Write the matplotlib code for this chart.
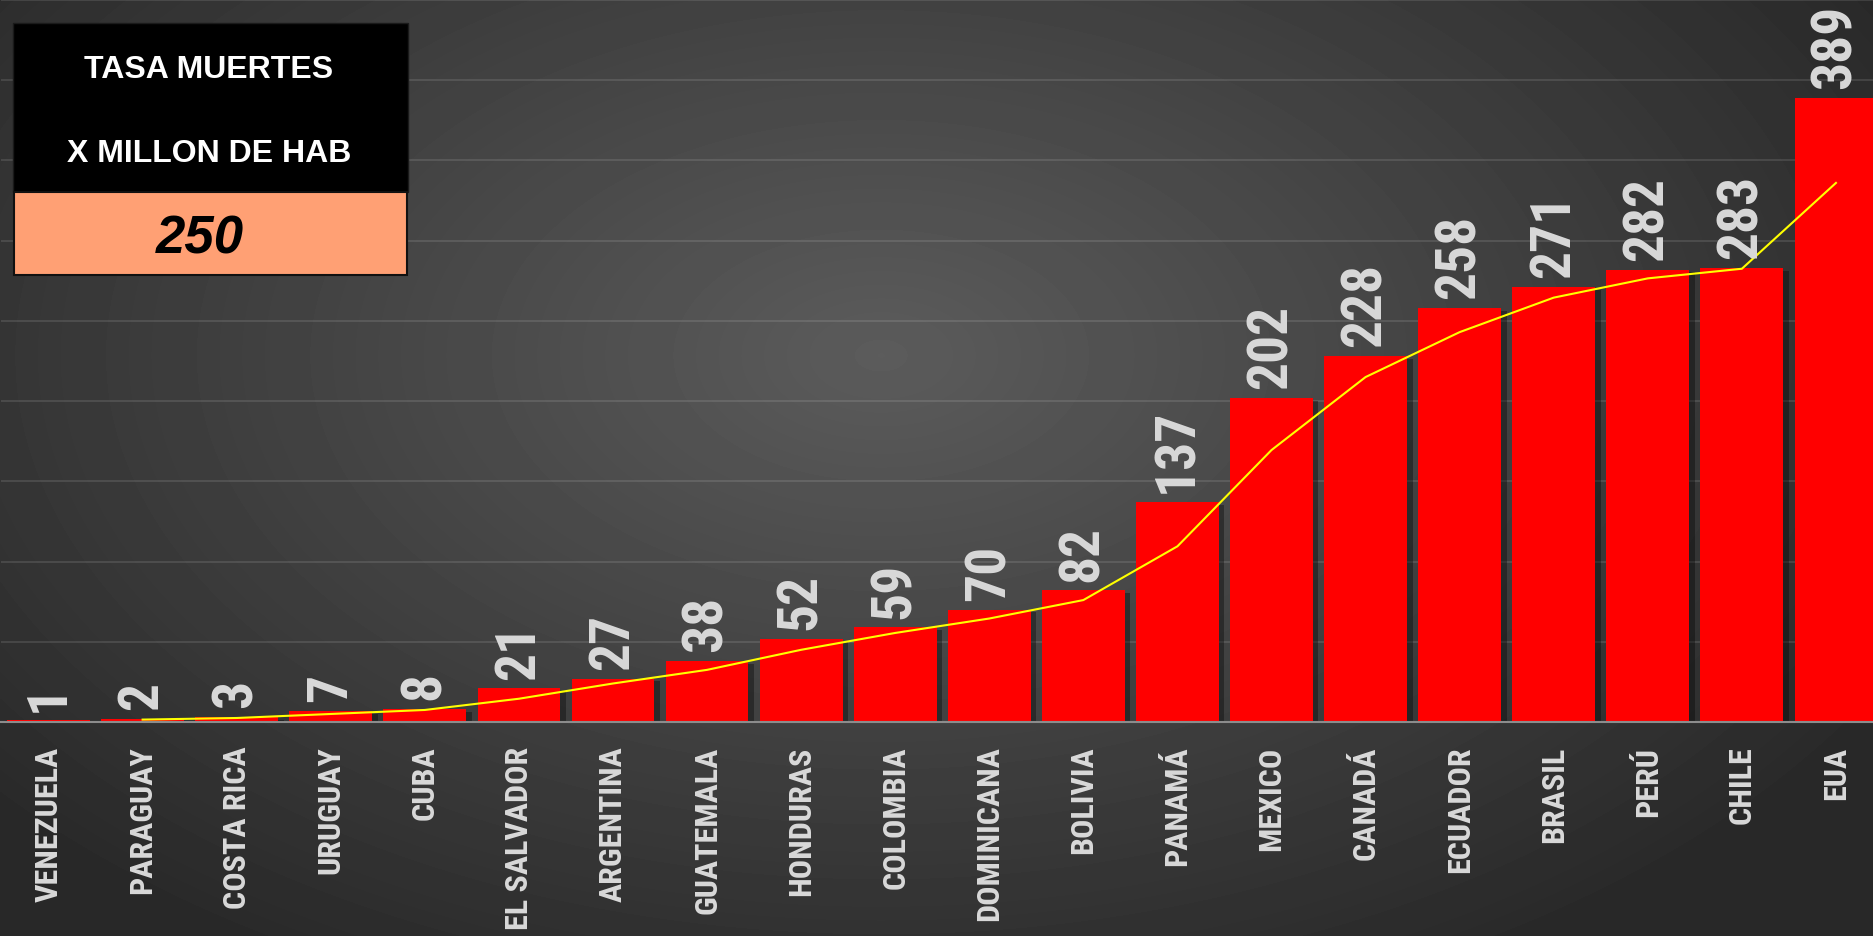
import numpy as np
import matplotlib.pyplot as plt
import matplotlib.patheffects as pe
from matplotlib.patches import Rectangle

paises = ["VENEZUELA", "PARAGUAY", "COSTA RICA", "URUGUAY", "CUBA", "EL SALVADOR",
          "ARGENTINA", "GUATEMALA", "HONDURAS", "COLOMBIA", "DOMINICANA", "BOLIVIA",
          "PANAMÁ", "MEXICO", "CANADÁ", "ECUADOR", "BRASIL", "PERÚ", "CHILE", "EUA"]
tasa = [1, 2, 3, 7, 8, 21, 27, 38, 52, 59, 70, 82, 137, 202, 228, 258, 271, 282, 283, 389]
titulo1 = "TASA MUERTES"
titulo2 = "X MILLON DE HAB"
valor_caja = "250"

narrow = ["Roboto Condensed", "Archivo Narrow", "DejaVu Sans"]
arial = ["Liberation Sans", "DejaVu Sans"]

W, H = 1874, 937
fig = plt.figure(figsize=(W / 100, H / 100), dpi=100)

# fondo con degradado radial
bg = fig.add_axes([0, 0, 1, 1], zorder=-10)
yy, xx = np.mgrid[0:H, 0:W]
r = np.sqrt(((xx - 0.47 * W) / (0.62 * W)) ** 2 + ((yy - 0.38 * H) / (0.75 * H)) ** 2)
r = np.clip(r, 0, 1)
c = 0.36 - 0.20 * r
bg.imshow(c, cmap="gray", vmin=0, vmax=1, aspect="auto", interpolation="bilinear")
bg.axis("off")

ax = fig.add_axes([0.0008, (H - 723) / H, 1.004, 722 / H])
ax.patch.set_alpha(0)

x = np.arange(len(paises))
barras = ax.bar(x, tasa, width=0.88, color="#ff0000", zorder=3)
for b in barras:
    b.set_path_effects([pe.SimplePatchShadow(offset=(4, -2), shadow_rgbFace="black", alpha=0.35),
                        pe.Normal()])

# media movil de 2 periodos
mm = [(tasa[i - 1] + tasa[i]) / 2 for i in range(1, len(tasa))]
ax.plot(x[1:], mm, color="#ffff00", lw=1.5, zorder=4)

for xi, v in zip(x, tasa):
    ax.annotate(str(v), (xi, v), xytext=(0, 7), textcoords="offset points",
                rotation=90, ha="center", va="bottom", fontsize=40, fontweight="bold",
                color="#d9d9d9", family=narrow, zorder=5)

ax.set_xlim(-0.5, len(paises) - 0.5)
ax.set_ylim(0, 450)
ax.set_yticks(np.arange(50, 451, 50))
ax.yaxis.grid(True, color="#ffffff", alpha=0.13, lw=1.2)
ax.set_axisbelow(True)
ax.tick_params(axis="y", left=False, labelleft=False)
ax.set_xticks(x)
ax.set_xticklabels(paises, rotation=90, fontsize=23, fontweight="bold", color="#d9d9d9",
                   family=narrow, va="top", ha="center")
ax.tick_params(axis="x", length=0, pad=17)
for s in ["top", "right", "left"]:
    ax.spines[s].set_visible(False)
ax.spines["bottom"].set_color("#8c8c8c")
ax.spines["bottom"].set_linewidth(1.5)
ax.spines["bottom"].set_zorder(6)

# cuadro superior izquierdo
fx = lambda px: px / W
fy = lambda py: 1 - py / H
fig.patches.append(Rectangle((fx(13), fy(193)), fx(408) - fx(13), fy(24) - fy(193),
                             transform=fig.transFigure, facecolor="black",
                             edgecolor="#1a1a1a", lw=1, zorder=10))
fig.patches.append(Rectangle((fx(14), fy(276)), fx(407) - fx(14), fy(193) - fy(276),
                             transform=fig.transFigure, facecolor="#ffa074",
                             edgecolor="#111111", lw=1.5, zorder=10))
fig.text(fx(209), fy(70), titulo1, ha="center", va="center", fontsize=23,
         fontweight="bold", color="white", family=arial, zorder=11)
fig.text(fx(209), fy(154), titulo2, ha="center", va="center", fontsize=23,
         fontweight="bold", color="white", family=arial, zorder=11)
fig.text(fx(200), fy(240), valor_caja, ha="center", va="center", fontsize=38,
         fontweight="bold", style="italic", color="black", family=arial, zorder=11)

fig.savefig("out.png", dpi=100)
